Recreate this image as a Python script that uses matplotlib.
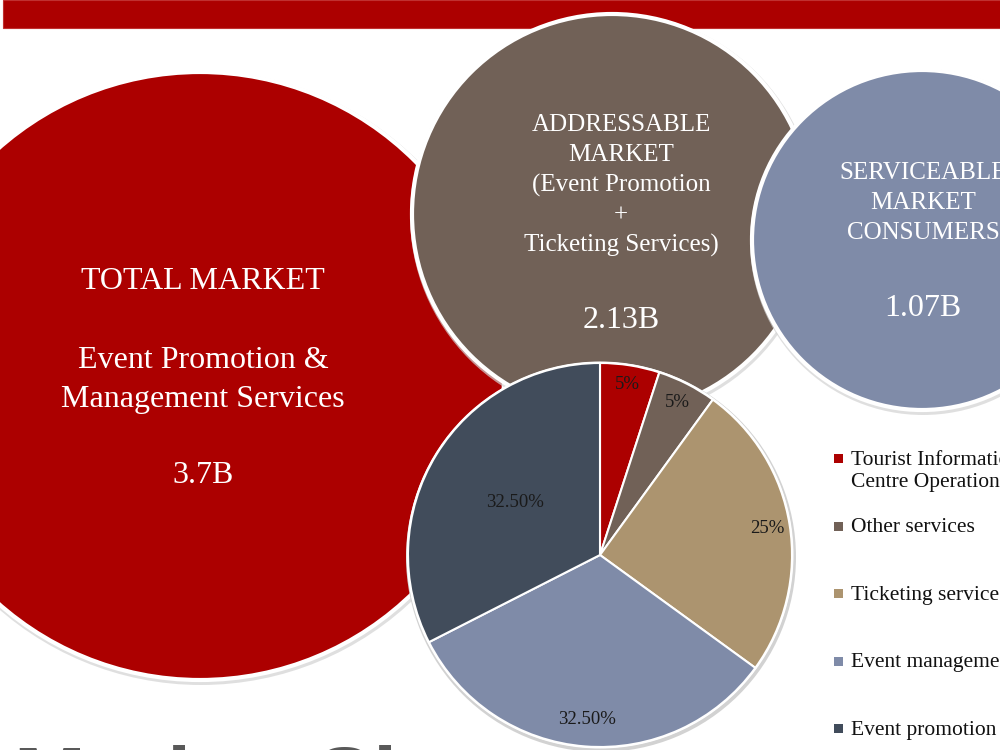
import matplotlib
matplotlib.use("Agg")
import matplotlib.pyplot as plt
import numpy as np
from matplotlib.patches import Circle, Rectangle

SERIF = ["Liberation Serif", "DejaVu Serif"]
SANS = ["Liberation Sans", "DejaVu Sans"]

# market sizing bubbles
market_titles = [
    ["TOTAL MARKET", "", "Event Promotion &", "Management Services"],
    ["ADDRESSABLE", "MARKET", "(Event Promotion", "+", "Ticketing Services)"],
    ["SERVICEABLE", "MARKET", "CONSUMERS"],
]
market_values = ["3.7B", "2.13B", "1.07B"]

# pie breakdown
segments = ["Tourist Information\nCentre Operations", "Other services",
            "Ticketing services", "Event management", "Event promotion"]
shares = [5, 5, 25, 32.5, 32.5]
share_labels = ["5%", "5%", "25%", "32.50%", "32.50%"]

RED, BROWN, TAN, BLUE, SLATE = "#AC0000", "#716157", "#AC946F", "#7F8BA8", "#414C5B"
seg_colors = [RED, BROWN, TAN, BLUE, SLATE]

W, H = 1000, 750
# bubble layout in pixels (x, y from top, radius, colour, text x, title size, line pitch, first line y, value y)
bubbles = [
    (200, 376, 304, RED, 203, 23, 39.3, 279, 473),
    (612, 214, 200, BROWN, 621, 18, 30, 123, 318),
    (922, 240, 170, BLUE, 923, 18, 30, 171, 306),
]
pie_c, pie_r = (600, 555), 192
label_dist = [0.9, 0.89, 0.88, 0.86, 0.52]

fig = plt.figure(figsize=(10, 7.5), dpi=100)
ax = fig.add_axes([0, 0, 1, 1])
ax.set_xlim(0, W); ax.set_ylim(0, H); ax.axis("off")

ax.add_patch(Rectangle((3, H - 28), W, 28, facecolor=RED, edgecolor="#c03030", lw=0.8, zorder=1))

for i, (cx, cy, r, col, tx, fs, pitch, y0, yv) in enumerate(bubbles):
    z = 2 + i * 2
    ax.add_patch(Circle((cx + 1, H - cy - 2), r + 3, facecolor="#d2d2d2", edgecolor="none",
                        alpha=0.7, zorder=z))
    ax.add_patch(Circle((cx, H - cy), r, facecolor=col, edgecolor="white", lw=3, zorder=z + 0.5))
    for k, line in enumerate(market_titles[i]):
        ax.text(tx, H - (y0 + k * pitch) - fs * 0.45, line, ha="center", va="baseline",
                color="white", fontsize=fs, family=SERIF, zorder=z + 1)
    ax.text(tx, H - yv - 10, market_values[i], ha="center", va="baseline",
            color="white", fontsize=23, family=SERIF, zorder=z + 1)

# pie
pc = (pie_c[0], H - pie_c[1])
ax.add_patch(Circle((pc[0] + 1, pc[1] - 2), pie_r + 3, facecolor="#d2d2d2", edgecolor="none", zorder=8))
ax.add_patch(Circle(pc, pie_r + 1.5, facecolor="white", edgecolor="none", zorder=8.5))
wedges, _ = ax.pie(shares, colors=seg_colors, startangle=90, counterclock=False,
                   center=pc, radius=pie_r, frame=True,
                   wedgeprops=dict(edgecolor="white", linewidth=1.5))
for w in wedges:
    w.set_zorder(9)
for w, lab, d in zip(wedges, share_labels, label_dist):
    ang = np.deg2rad((w.theta1 + w.theta2) / 2)
    ax.text(pc[0] + d * pie_r * np.cos(ang), pc[1] + d * pie_r * np.sin(ang), lab,
            ha="center", va="center", fontsize=13.5, family=SERIF, color="#1a1a1a", zorder=10)
ax.set_xlim(0, W); ax.set_ylim(0, H); ax.axis("off")

# legend
for k, (lab, col) in enumerate(zip(segments, seg_colors)):
    yc = 458 + k * 67.5
    ax.add_patch(Rectangle((834, H - yc - 5), 9, 9, facecolor=col, edgecolor="none", zorder=10))
    for j, line in enumerate(lab.split("\n")):
        ax.text(851, H - (yc + j * 22) - 7, line, ha="left", va="baseline",
                fontsize=15.5, family=SERIF, color="#111111", zorder=10)

# heading cut off at the bottom edge
ax.text(14, -57, "Market Size", ha="left", va="baseline", fontsize=62, fontweight="bold",
        family=SANS, color="#595959", zorder=10)

fig.savefig("out.png", dpi=100)
